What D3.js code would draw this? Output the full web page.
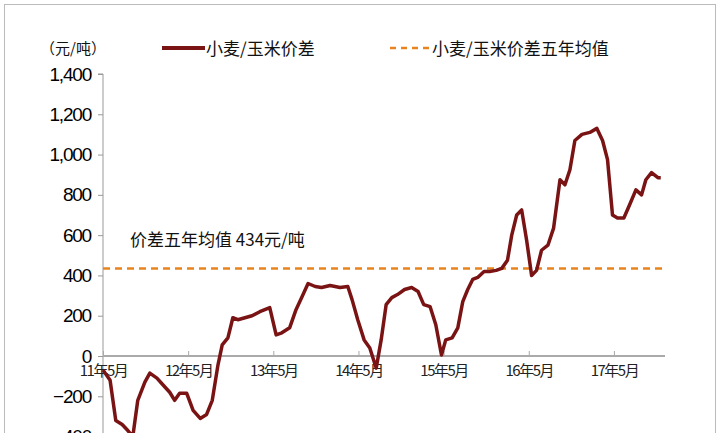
<!DOCTYPE html>
<html><head><meta charset="utf-8">
<script src="https://cdn.jsdelivr.net/npm/d3@7"></script>
<style>
body{margin:0;background:#fff;}
svg{display:block;}
.cn{font-family:"Noto Sans CJK SC",sans-serif;}
.num{font-family:"Liberation Sans",Arial,sans-serif;}
</style></head><body>
<script>
// months since 2011-05
const months = [0,1.0,1.8,2.7,3.5,4.2,4.9,5.9,6.6,7.6,8.5,9.4,10.1,10.8,11.8,12.7,13.7,14.6,15.4,16.2,16.8,17.6,18.3,19.0,20.0,21.0,22.1,23.5,24.4,25.2,26.3,27.2,28.0,28.9,29.9,30.8,32.0,33.4,34.5,35.1,35.9,36.8,37.6,38.5,39.2,39.9,40.7,41.5,42.5,43.5,44.4,45.2,46.1,46.9,47.7,48.3,49.2,50.0,50.7,51.4,52.1,52.8,53.7,54.5,55.4,56.2,57.0,57.6,58.3,59.0,59.7,60.4,61.1,61.8,62.7,63.5,64.4,65.1,65.8,66.5,67.5,68.6,69.6,70.4,71.1,71.8,72.5,73.4,74.2,75.1,75.9,76.5,77.3,78.2,78.6];
const spread = [-70,-120,-320,-340,-370,-400,-220,-130,-85,-110,-145,-180,-220,-185,-185,-270,-310,-290,-220,-45,55,90,190,180,190,200,220,240,105,115,140,230,290,360,345,340,350,340,345,280,180,80,40,-60,80,255,290,305,330,340,320,255,245,155,5,80,90,140,270,330,380,390,420,420,425,435,475,600,700,725,575,400,425,525,550,635,875,850,925,1070,1100,1110,1130,1070,975,700,685,685,750,825,800,875,910,885,885];
const fiveYearMean = 434;
const xTickMonths = [0,12,24,36,48,60,72];
const xTickLabels = ["11年5月","12年5月","13年5月","14年5月","15年5月","16年5月","17年5月"];
const yTicks = [-400,-200,0,200,400,600,800,1000,1200,1400];

const W = 720, H = 433;
const svg = d3.select("body").append("svg").attr("width", W).attr("height", H);
svg.append("rect").attr("x",4.5).attr("y",4.5).attr("width",W-9).attr("height",H).attr("fill","none").attr("stroke","#bbb");

const x = d3.scaleLinear().domain([0, 79.2]).range([103, 665]);
const y = d3.scaleLinear().domain([0, 1400]).range([356, 74]);

// y axis
const ya = svg.append("g").attr("transform","translate(103,0)")
  .call(d3.axisLeft(y).tickValues(yTicks).tickSize(5).tickFormat(d3.format(",")));
ya.select(".domain").attr("stroke","#999").attr("d","M-5,74H0V440");
ya.selectAll(".tick line").attr("stroke","#999");
ya.selectAll("text").attr("class","num").attr("font-size",19).attr("fill","#000").attr("x",-12).attr("letter-spacing",-1.2);

// x axis at zero
const xa = svg.append("g").attr("transform",`translate(0,${y(0)})`)
  .call(d3.axisBottom(x).tickValues(xTickMonths).tickSize(-5).tickFormat((d,i)=>xTickLabels[i]));
xa.select(".domain").attr("stroke","#aaa").attr("stroke-width",2).attr("d",`M103,0H${x(79.2)}`);
xa.selectAll(".tick line").attr("stroke","#aaa");
xa.selectAll("text").attr("class","cn").attr("font-size",15).attr("fill","#222").attr("dy",17).attr("letter-spacing",-1.5);

// mean line
svg.append("line").attr("x1",103).attr("x2",x(79.2)).attr("y1",y(fiveYearMean)).attr("y2",y(fiveYearMean))
  .attr("stroke","#E8841E").attr("stroke-width",2.5).attr("stroke-dasharray","7,5");

// series line
const line = d3.line().x(d=>x(d[0])).y(d=>y(d[1]));
svg.append("path").datum(months.map((m,i)=>[m,spread[i]]))
  .attr("d",line).attr("fill","none").attr("stroke","#7A1414").attr("stroke-width",3.5).attr("stroke-linejoin","round");

// annotation
svg.append("text").attr("class","cn").attr("x",130).attr("y",246).attr("font-size",17).attr("fill","#111")
  .text("价差五年均值 434元/吨");

// unit + legend
svg.append("text").attr("class","cn").attr("x",40).attr("y",54).attr("font-size",15).attr("fill","#111").text("（元/吨）");
svg.append("line").attr("x1",162).attr("x2",205).attr("y1",48).attr("y2",48).attr("stroke","#7A1414").attr("stroke-width",4);
svg.append("text").attr("class","cn").attr("x",206).attr("y",55).attr("font-size",17).attr("fill","#111").text("小麦/玉米价差");
svg.append("line").attr("x1",390).attr("x2",430).attr("y1",48).attr("y2",48).attr("stroke","#E8841E").attr("stroke-width",2.5).attr("stroke-dasharray","6,5");
svg.append("text").attr("class","cn").attr("x",432).attr("y",55).attr("font-size",17).attr("fill","#111").text("小麦/玉米价差五年均值");
</script>
</body></html>
